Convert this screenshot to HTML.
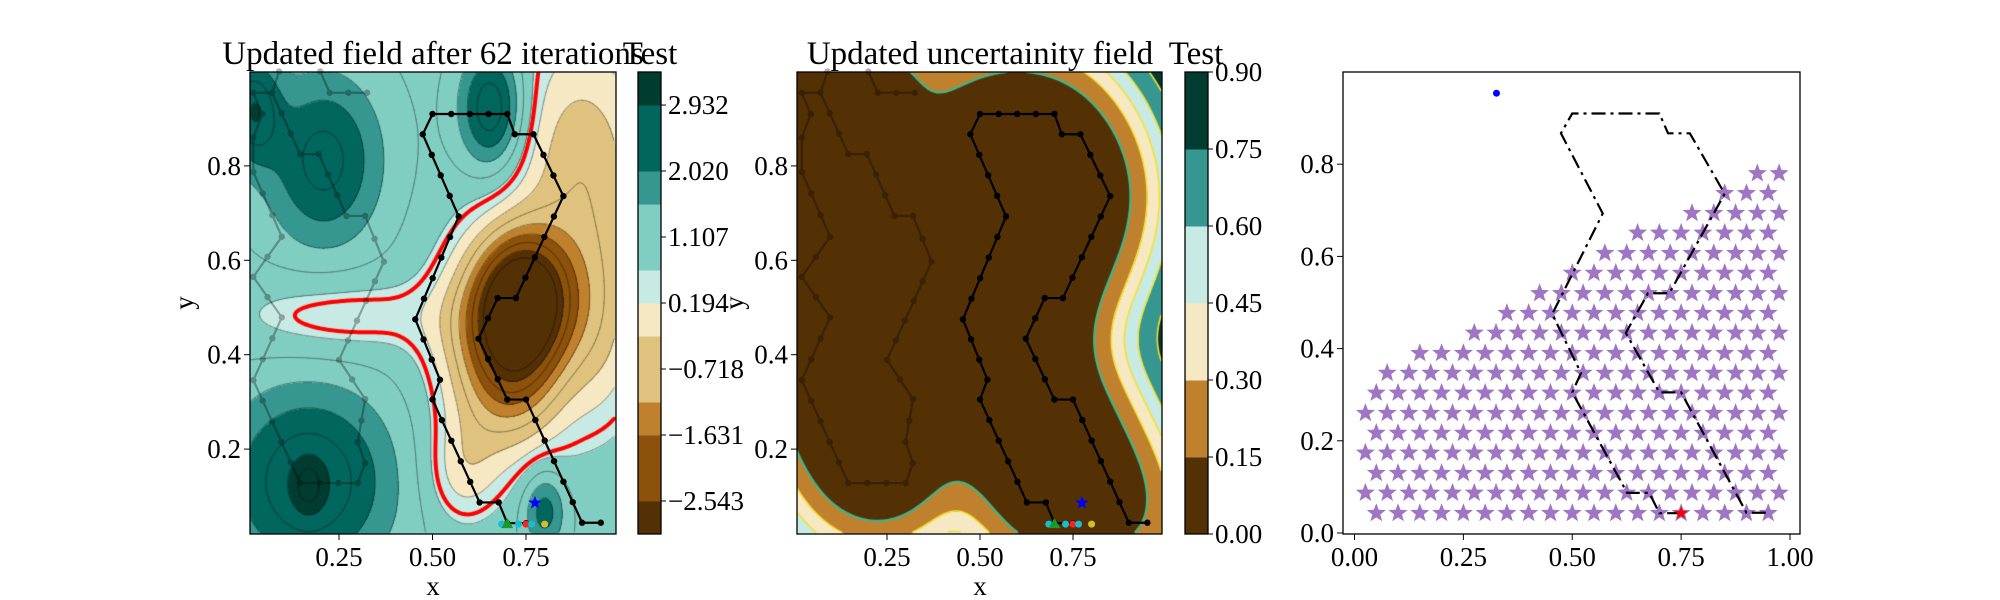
<!DOCTYPE html>
<html><head><meta charset="utf-8">
<style>
html,body{margin:0;padding:0;background:#fff;}
#wrap{position:relative;width:2000px;height:600px;overflow:hidden;font-family:"Liberation Serif",serif;}
canvas{position:absolute;}
svg{position:absolute;left:0;top:0;}
</style></head>
<body>
<div id="wrap">
<canvas id="c1" width="366" height="462" style="left:250px;top:72px"></canvas>
<canvas id="c2" width="365" height="462" style="left:797px;top:72px"></canvas>
<svg id="s" width="2000" height="600" xmlns="http://www.w3.org/2000/svg"></svg>
</div>
<script>
// ---------- data ----------
const pathX = [0.75,0.70,0.677,0.626,0.50,0.52,0.454,0.57,0.474,0.50,0.70,0.72,0.77,0.85,0.723,0.674,0.623,0.70,0.75,0.90,0.95];
const pathY = [0.043,0.043,0.087,0.087,0.305,0.347,0.475,0.693,0.867,0.91,0.91,0.867,0.867,0.736,0.52,0.52,0.434,0.305,0.305,0.044,0.044];
const ghostX = [0.09,0.071,0.021,0.045,0.021,0.021,0.097,0.021,0.097,0.021,0.146,0.30,0.32,0.30,0.32,0.25,0.37,0.32,0.27,0.196,0.146,0.071];
const ghostY = [1.0,0.955,0.955,0.91,0.86,0.787,0.65,0.565,0.479,0.346,0.128,0.128,0.17,0.215,0.306,0.389,0.597,0.694,0.694,0.825,0.825,0.955];
const ghost2X = [0.325,0.225,0.20];
const ghost2Y = [0.955,0.955,1.0];
// field gaussians: centre x, centre y, amplitude, sigma x, sigma y
const gCx = [0.745,0.72,0.90,0.62,0.17,0.21,0.66,0.02,0.80,0.25,0.58,0.95,0.17];
const gCy = [0.52,0.36,0.80,0.45,0.13,0.81,0.92,0.92,0.07,0.48,0.15,0.45,0.12];
const gAmp = [-4.2,-2.2,-1.6,-1.0,1.9,1.65,2.0,1.7,1.3,-0.75,-0.9,-1.0,0.8];
const gSx = [0.09,0.10,0.13,0.10,0.16,0.11,0.06,0.05,0.04,0.20,0.07,0.08,0.03];
const gSy = [0.10,0.12,0.20,0.15,0.14,0.13,0.09,0.08,0.06,0.06,0.08,0.15,0.04];
const fieldBase = 1.0;
const lev1 = [-3.0,-2.543,-1.631,-1.175,-0.262,0.194,0.65,1.563,2.02,2.932,3.389];
const col1 = ['#543005','#8c510a','#bf812d','#dfc27d','#f6e8c3','#c7eae5','#80cdc1','#35978f','#01665e','#003c30'];
const cb1Ticks = [-2.543,-1.631,-0.718,0.194,1.107,2.020,2.932];
const lev2 = [0,0.15,0.30,0.45,0.60,0.75,0.90];
const col2 = ['#543005','#bf812d','#f6e8c3','#c7eae5','#35978f','#003c30'];
const redLevel = 0.5;
// markers near start
const mkX = [0.685,0.73,0.75,0.765,0.80];
const mkY = [0.041,0.041,0.041,0.041,0.041];
const mkC = ['#17becf','#17becf','#ff2020','#17becf','#d4c020'];
const startX = 0.70, startY = 0.041, goalX = 0.774, goalY = 0.086;
// panel 3 candidate stars
const rowY = [0.043,0.087,0.13,0.174,0.217,0.26,0.304,0.347,0.39,0.434,0.477,0.52,0.564,0.607,0.651,0.694,0.737,0.78];
const rowXStart = [0.05,0.025,0.05,0.025,0.05,0.025,0.05,0.075,0.15,0.275,0.35,0.425,0.50,0.575,0.65,0.775,0.85,0.925];
const rowXEnd = [0.95,0.975,0.95,0.975,0.95,0.975,0.95,0.975,0.95,0.975,0.95,0.975,0.95,0.975,0.95,0.975,0.95,0.975];
const redStarX = 0.75, redStarY = 0.043, blueDotX = 0.326, blueDotY = 0.954;

// ---------- axes ----------
const X1 = x => 245.5 + 374*x, Y1 = y => 543.5 - 472*y;
const X2 = x => 794 + 372*x;
const X3 = x => 1354.5 + 435.5*x, Y3 = y => 533 - 461*y;
const CB1 = v => 534 - (v - lev1[0]) / (lev1[lev1.length-1]-lev1[0]) * 462;
const CB2 = v => 534 - v/0.9*462;

const NS = 'http://www.w3.org/2000/svg';
const svg = document.getElementById('s');
function mk(tag, attrs, parent){ const e = document.createElementNS(NS, tag); for (const k in attrs) e.setAttribute(k, attrs[k]); (parent||svg).appendChild(e); return e; }
function txt(x,y,s,size,anchor,name,extra){ const t = mk('text',Object.assign({x:x,y:y,'font-size':size,'text-anchor':anchor||'middle','font-family':'Liberation Serif, serif',fill:'#000'},extra||{})); t.textContent=s;
 
 
 return t; }

function sample(xs, ys, step){ const out=[]; for(let i=0;i<xs.length-1;i++){ const dx=xs[i+1]-xs[i], dy=ys[i+1]-ys[i]; const L=Math.hypot(dx,dy); const n=Math.max(1,Math.round(L/step)); for(let k=0;k<n;k++) out.push([xs[i]+dx*k/n, ys[i]+dy*k/n]); } out.push([xs[xs.length-1], ys[ys.length-1]]); return out; }

// ---------- fields ----------
function field1(x,y){ let v=fieldBase; for(let i=0;i<gCx.length;i++){ const dx=(x-gCx[i])/gSx[i], dy=(y-gCy[i])/gSy[i]; v+=gAmp[i]*Math.exp(-0.5*(dx*dx+dy*dy)); } return v; }
const dense = sample(pathX,pathY,0.025).concat(sample(ghostX,ghostY,0.025)).concat(sample(ghost2X,ghost2Y,0.025));
function field2(x,y){ let S=0; const l2=2*0.1*0.1; for(const p of dense){ const dx=x-p[0], dy=y-p[1]; const d2=dx*dx+dy*dy; if(d2<0.16) S+=0.25*Math.exp(-d2/l2); } return 0.85*Math.exp(-S); }

function hex(c){ return [parseInt(c.slice(1,3),16),parseInt(c.slice(3,5),16),parseInt(c.slice(5,7),16)]; }
function render(canvasId, left, Xf, fn, levs, cols){
  const cv=document.getElementById(canvasId), ctx=cv.getContext('2d'); const W=cv.width,H=cv.height;
  const img=ctx.createImageData(W,H); const vals=new Float32Array(W*H); const rgb=cols.map(hex);
  const ax=(Xf(1)-Xf(0)), x0=Xf(0);
  for(let j=0;j<H;j++){ const y=(543.5-(72+j+0.5))/472; for(let i=0;i<W;i++){ const x=(left+i+0.5-x0)/ax; const v=fn(x,y); vals[j*W+i]=v; let b=0; while(b<levs.length-2 && v>=levs[b+1]) b++; const c=rgb[b]; const o=(j*W+i)*4; img.data[o]=c[0];img.data[o+1]=c[1];img.data[o+2]=c[2];img.data[o+3]=255; } }
  ctx.putImageData(img,0,0); return {ctx,vals,W,H};
}
function contour(r, L, style, width){
  const {ctx,vals,W,H}=r; const st=2; ctx.beginPath();
  for(let j=0;j+st<H;j+=st){ for(let i=0;i+st<W;i+=st){
    const a=vals[j*W+i], b=vals[j*W+i+st], c=vals[(j+st)*W+i+st], d=vals[(j+st)*W+i]; const pts=[];
    if((a<L)!==(b<L)) pts.push([i+st*(L-a)/(b-a), j]);
    if((b<L)!==(c<L)) pts.push([i+st, j+st*(L-b)/(c-b)]);
    if((c<L)!==(d<L)) pts.push([i+st*(L-d)/(c-d), j+st]);
    if((d<L)!==(a<L)) pts.push([i, j+st*(L-a)/(d-a)]);
    for(let k=0;k+1<pts.length;k+=2){ ctx.moveTo(pts[k][0],pts[k][1]); ctx.lineTo(pts[k+1][0],pts[k+1][1]); }
  } }
  ctx.strokeStyle=style; ctx.lineWidth=width; ctx.lineCap='round'; ctx.stroke();
}
const r1=render('c1',250,X1,field1,lev1,col1);
for(let k=0;k<15;k++){ const L=-3.0+0.456*k; contour(r1,L,'rgba(0,0,0,0.5)',0.6); }
contour(r1,redLevel,'#ff0000',4);
const r2=render('c2',797,X2,field2,lev2,col2);
contour(r2,0.15,'#3fb68c',2.2);
[0.3,0.45,0.6,0.75].forEach(L=>contour(r2,L,'#f5e030',1.6));

// ---------- path overlays ----------
function drawPath(xs,ys,Xf,Yf,name,opacity,dash){
  const g=mk('g',{opacity:opacity});
  
  
  const pl=mk('polyline',{points:xs.map((x,i)=>Xf(x)+','+Yf(ys[i])).join(' '),fill:'none',stroke:'#000','stroke-width':2.2,'stroke-dasharray':dash||'none'},g);
  
  
  if(!dash){ for(const p of sample(xs,ys,0.05)){ const c=mk('circle',{cx:Xf(p[0]),cy:Yf(p[1]),r:3.2,fill:'#000'},g);
    
     } }
}
function star(cx,cy,R,fill,name,op){ const pts=[]; for(let k=0;k<10;k++){ const rr=k%2?R*0.42:R; const a=-Math.PI/2+k*Math.PI/5; pts.push((cx+rr*Math.cos(a)).toFixed(1)+','+(cy+rr*Math.sin(a)).toFixed(1)); }
  const p=mk('polygon',{points:pts.join(' '),fill:fill,opacity:op||1});
  
   }
function markers(Xf,Yf,pre){
  mkX.forEach((x,i)=>{ const c=mk('circle',{cx:Xf(x),cy:Yf(mkY[i]),r:3.5,fill:mkC[i]});
    
     });
  const sx=Xf(startX), sy=Yf(startY);
  const t=mk('polygon',{points:`${sx-6},${sy+4} ${sx+6},${sy+4} ${sx},${sy-6}`,fill:'#1a9a2a'});
  
  
  star(Xf(goalX),Yf(goalY),7,'#0000ff',pre+'-goal-star');
}
[[X1,'p1'],[X2,'p2']].forEach(([Xf,pre])=>{
  drawPath(ghostX,ghostY,Xf,Y1,pre+'-previous-path',0.3);
  drawPath(ghost2X,ghost2Y,Xf,Y1,pre+'-previous-path-2',0.3);
  drawPath(pathX,pathY,Xf,Y1,pre+'-current-path',1);
  markers(Xf,Y1,pre);
});

// panel 3 stars
rowY.forEach((y,i)=>{ for(let x=rowXStart[i]; x<=rowXEnd[i]+1e-6; x+=0.05){ star(X3(x),Y3(y),10,'#9467bd','candidate-star',0.9); } });
drawPath(pathX,pathY,X3,Y3,'p3-planned-path',1,'14,5,3,5');
star(X3(redStarX),Y3(redStarY),7,'#ff0000','p3-current-position');
{ const c=mk('circle',{cx:X3(blueDotX),cy:Y3(blueDotY),r:3.5,fill:'#0000ff'});
  
   }

// ---------- frames, ticks, labels ----------
function frame(x,y,w,h,name){ const r=mk('rect',{x:x,y:y,width:w,height:h,fill:'none',stroke:'#000','stroke-width':1.3});
  
   }
frame(250,72,366,462,'p1-axes-frame'); frame(797,72,365,462,'p2-axes-frame'); frame(1343,72,457,462,'p3-axes-frame');
const fs=27;
const xt=[0.25,0.50,0.75], yt=[0.2,0.4,0.6,0.8];
[[X1,'p1'],[X2,'p2']].forEach(([Xf,pre])=>{
  xt.forEach(v=>{ mk('line',{x1:Xf(v),x2:Xf(v),y1:534,y2:540,stroke:'#000'}); txt(Xf(v),566,v.toFixed(2),fs,'middle',pre+'-x-tick-label'); });
  const lx = pre==='p1'?250:797;
  yt.forEach(v=>{ mk('line',{x1:lx-6,x2:lx,y1:Y1(v),y2:Y1(v),stroke:'#000'}); txt(lx-9,Y1(v)+9,v.toFixed(1),fs,'end',pre+'-y-tick-label'); });
});
[0,0.25,0.5,0.75,1].forEach(v=>{ mk('line',{x1:X3(v),x2:X3(v),y1:534,y2:540,stroke:'#000'}); txt(X3(v),566,v.toFixed(2),fs,'middle','p3-x-tick-label'); });
[0,0.2,0.4,0.6,0.8].forEach(v=>{ mk('line',{x1:1337,x2:1343,y1:Y3(v),y2:Y3(v),stroke:'#000'}); txt(1334,Y3(v)+9,v.toFixed(1),fs,'end','p3-y-tick-label'); });
txt(433,595,'x',fs,'middle','p1-x-axis-title'); txt(980,595,'x',fs,'middle','p2-x-axis-title');
txt(193,303,'y',fs,'middle','p1-y-axis-title',{transform:'rotate(-90 193 303)'});
txt(743,303,'y',fs,'middle','p2-y-axis-title',{transform:'rotate(-90 743 303)'});
txt(433,64,'Updated field after 62 iterations',33,'middle','p1-title');
txt(650,64,'Test',33,'middle','p1-colorbar-title');
txt(980,64,'Updated uncertainity field',33,'middle','p2-title');
txt(1196,64,'Test',33,'middle','p2-colorbar-title');

// colorbars
col1.forEach((c,i)=>{ const r=mk('rect',{x:638,y:CB1(lev1[i+1]),width:23,height:CB1(lev1[i])-CB1(lev1[i+1])+0.5,fill:c});
  
   });
frame(638,72,23,462,'p1-colorbar-frame');
cb1Ticks.forEach(v=>{ mk('line',{x1:661,x2:666,y1:CB1(v),y2:CB1(v),stroke:'#000'}); txt(668,CB1(v)+9,(v<0?'\u2212':'')+Math.abs(v).toFixed(3),fs,'start','p1-colorbar-tick-label'); });
col2.forEach((c,i)=>{ const r=mk('rect',{x:1185,y:CB2(lev2[i+1]),width:23,height:CB2(lev2[i])-CB2(lev2[i+1])+0.5,fill:c});
  
   });
frame(1185,72,23,462,'p2-colorbar-frame');
lev2.forEach(v=>{ mk('line',{x1:1208,x2:1213,y1:CB2(v),y2:CB2(v),stroke:'#000'}); txt(1215,CB2(v)+9,v.toFixed(2),fs,'start','p2-colorbar-tick-label'); });
</script>
</body></html>
